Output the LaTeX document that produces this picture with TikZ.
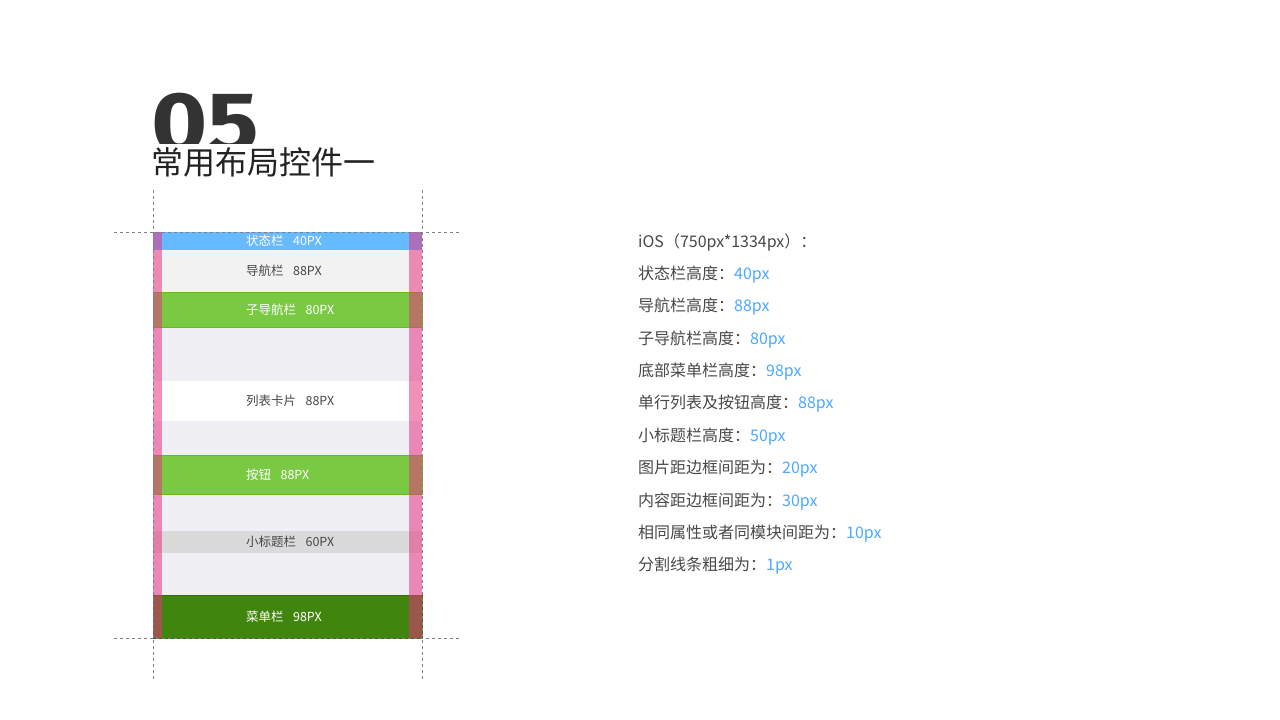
\documentclass[tikz,border=0pt]{standalone}
\usepackage{fontspec}
\setmainfont{Noto Sans CJK SC}
\newfontfamily\numfont{Fira Sans}
\usepackage{xcolor}
\definecolor{statusblue}{RGB}{102,186,255}
\definecolor{navgray}{RGB}{242,242,242}
\definecolor{screengray}{RGB}{239,239,244}
\definecolor{subgreen}{RGB}{122,201,67}
\definecolor{subline}{RGB}{98,188,38}
\definecolor{headgray}{RGB}{218,218,218}
\definecolor{menugreen}{RGB}{64,133,13}
\definecolor{menuline}{RGB}{50,110,8}
\definecolor{marginpink}{RGB}{233,51,131}
\definecolor{guidegray}{RGB}{128,128,128}
\definecolor{textgray}{RGB}{72,72,72}
\definecolor{valueblue}{RGB}{76,169,255}
\usepackage{tikz}
\usetikzlibrary{positioning}
\tikzstyle{bar} = [
    rectangle,
    inner sep=0pt, outer sep=0pt,
    minimum width=269pt,
]
\tikzstyle{screen} = [bar, fill=screengray]
\tikzstyle{statusbar} = [bar, fill=statusblue]
\tikzstyle{navbar} = [bar, fill=navgray]
\tikzstyle{subbar} = [bar, fill=subgreen, draw=subline, line width=0.8pt]
\tikzstyle{cardbar} = [bar, fill=white]
\tikzstyle{headbar} = [bar, fill=headgray]
\tikzstyle{menubar} = [bar, fill=menugreen, draw=menuline, line width=0.8pt]
\tikzstyle{barlabel} = [
    anchor=west, inner sep=0pt,
    font=\fontsize{12.5}{12.5}\selectfont,
]
\tikzstyle{margin} = [
    rectangle, inner sep=0pt, outer sep=0pt,
    minimum height=406pt,
    fill=marginpink, fill opacity=0.55,
]
\tikzstyle{guide} = [guidegray, dashed, line width=0.6pt]
\tikzstyle{spec} = [
    anchor=west, inner sep=0pt,
    text=textgray,
    font=\fontsize{16}{16}\selectfont,
]

\begin{document}
\begin{tikzpicture}[x=1pt,y=-1pt]
    \useasboundingbox[fill=white] (0,0) rectangle (1280,720);

    % heading
    \begin{scope}
        \clip (140,80) rectangle (300,143);
        \node (num) [anchor=base west, inner sep=0pt, text={rgb,255:red,51;green,51;blue,51}]
            at (151,152) {\scalebox{1.12}[1]{\numfont\bfseries\fontsize{86}{86}\selectfont 05}};
    \end{scope}
    \node (title) [anchor=west, inner sep=0pt, text={rgb,255:red,34;green,34;blue,34},
        font=\fontsize{32}{32}\selectfont] at (151,162) {常用布局控件一};

    % phone
    \node (screen) at (287.5,435) [screen, minimum height=406pt] {};
    \foreach \t/\b/\s/\c/\lab [count=\i] in {
        232/250/statusbar/white/{状态栏\hspace{0.75em}40PX},
        250/292/navbar/textgray/{导航栏\hspace{0.75em}88PX},
        292/327/subbar/white/{子导航栏\hspace{0.75em}80PX},
        381/421/cardbar/textgray/{列表卡片\hspace{0.75em}88PX},
        455/494/subbar/white/{按钮\hspace{0.75em}88PX},
        531/553/headbar/textgray/{小标题栏\hspace{0.75em}60PX},
        595/638/menubar/white/{菜单栏\hspace{0.75em}98PX}} {
        \node (bar\i) at (287.5,{(\t+\b)/2}) [\s, minimum height={\b-\t}] {};
        \node (lab\i) at (246,{(\t+\b)/2}) [barlabel, text=\c] {\lab};
    }
    \node (marginL) at (157.5,435) [margin, minimum width=9pt] {};
    \node (marginR) at (415.5,435) [margin, minimum width=13pt] {};

    % guides
    \draw [guide] (114,232) -- (460,232);
    \draw [guide] (114,638) -- (460,638);
    \draw [guide] (153,190) -- (153,682);
    \draw [guide] (422,190) -- (422,682);

    % specs
    \node (spec0) at (638,242) [spec] {iOS（750px*1334px）：};
    \foreach \lab/\val [count=\i] in {
        状态栏高度/40px, 导航栏高度/88px, 子导航栏高度/80px,
        底部菜单栏高度/98px, 单行列表及按钮高度/88px, 小标题栏高度/50px,
        图片距边框间距为/20px, 内容距边框间距为/30px,
        相同属性或者同模块间距为/10px, 分割线条粗细为/1px} {
        \node (spec\i) at (638,{242+32.4*\i}) [spec] {\lab：\textcolor{valueblue}{\val}};
    }

\end{tikzpicture}
\end{document}
